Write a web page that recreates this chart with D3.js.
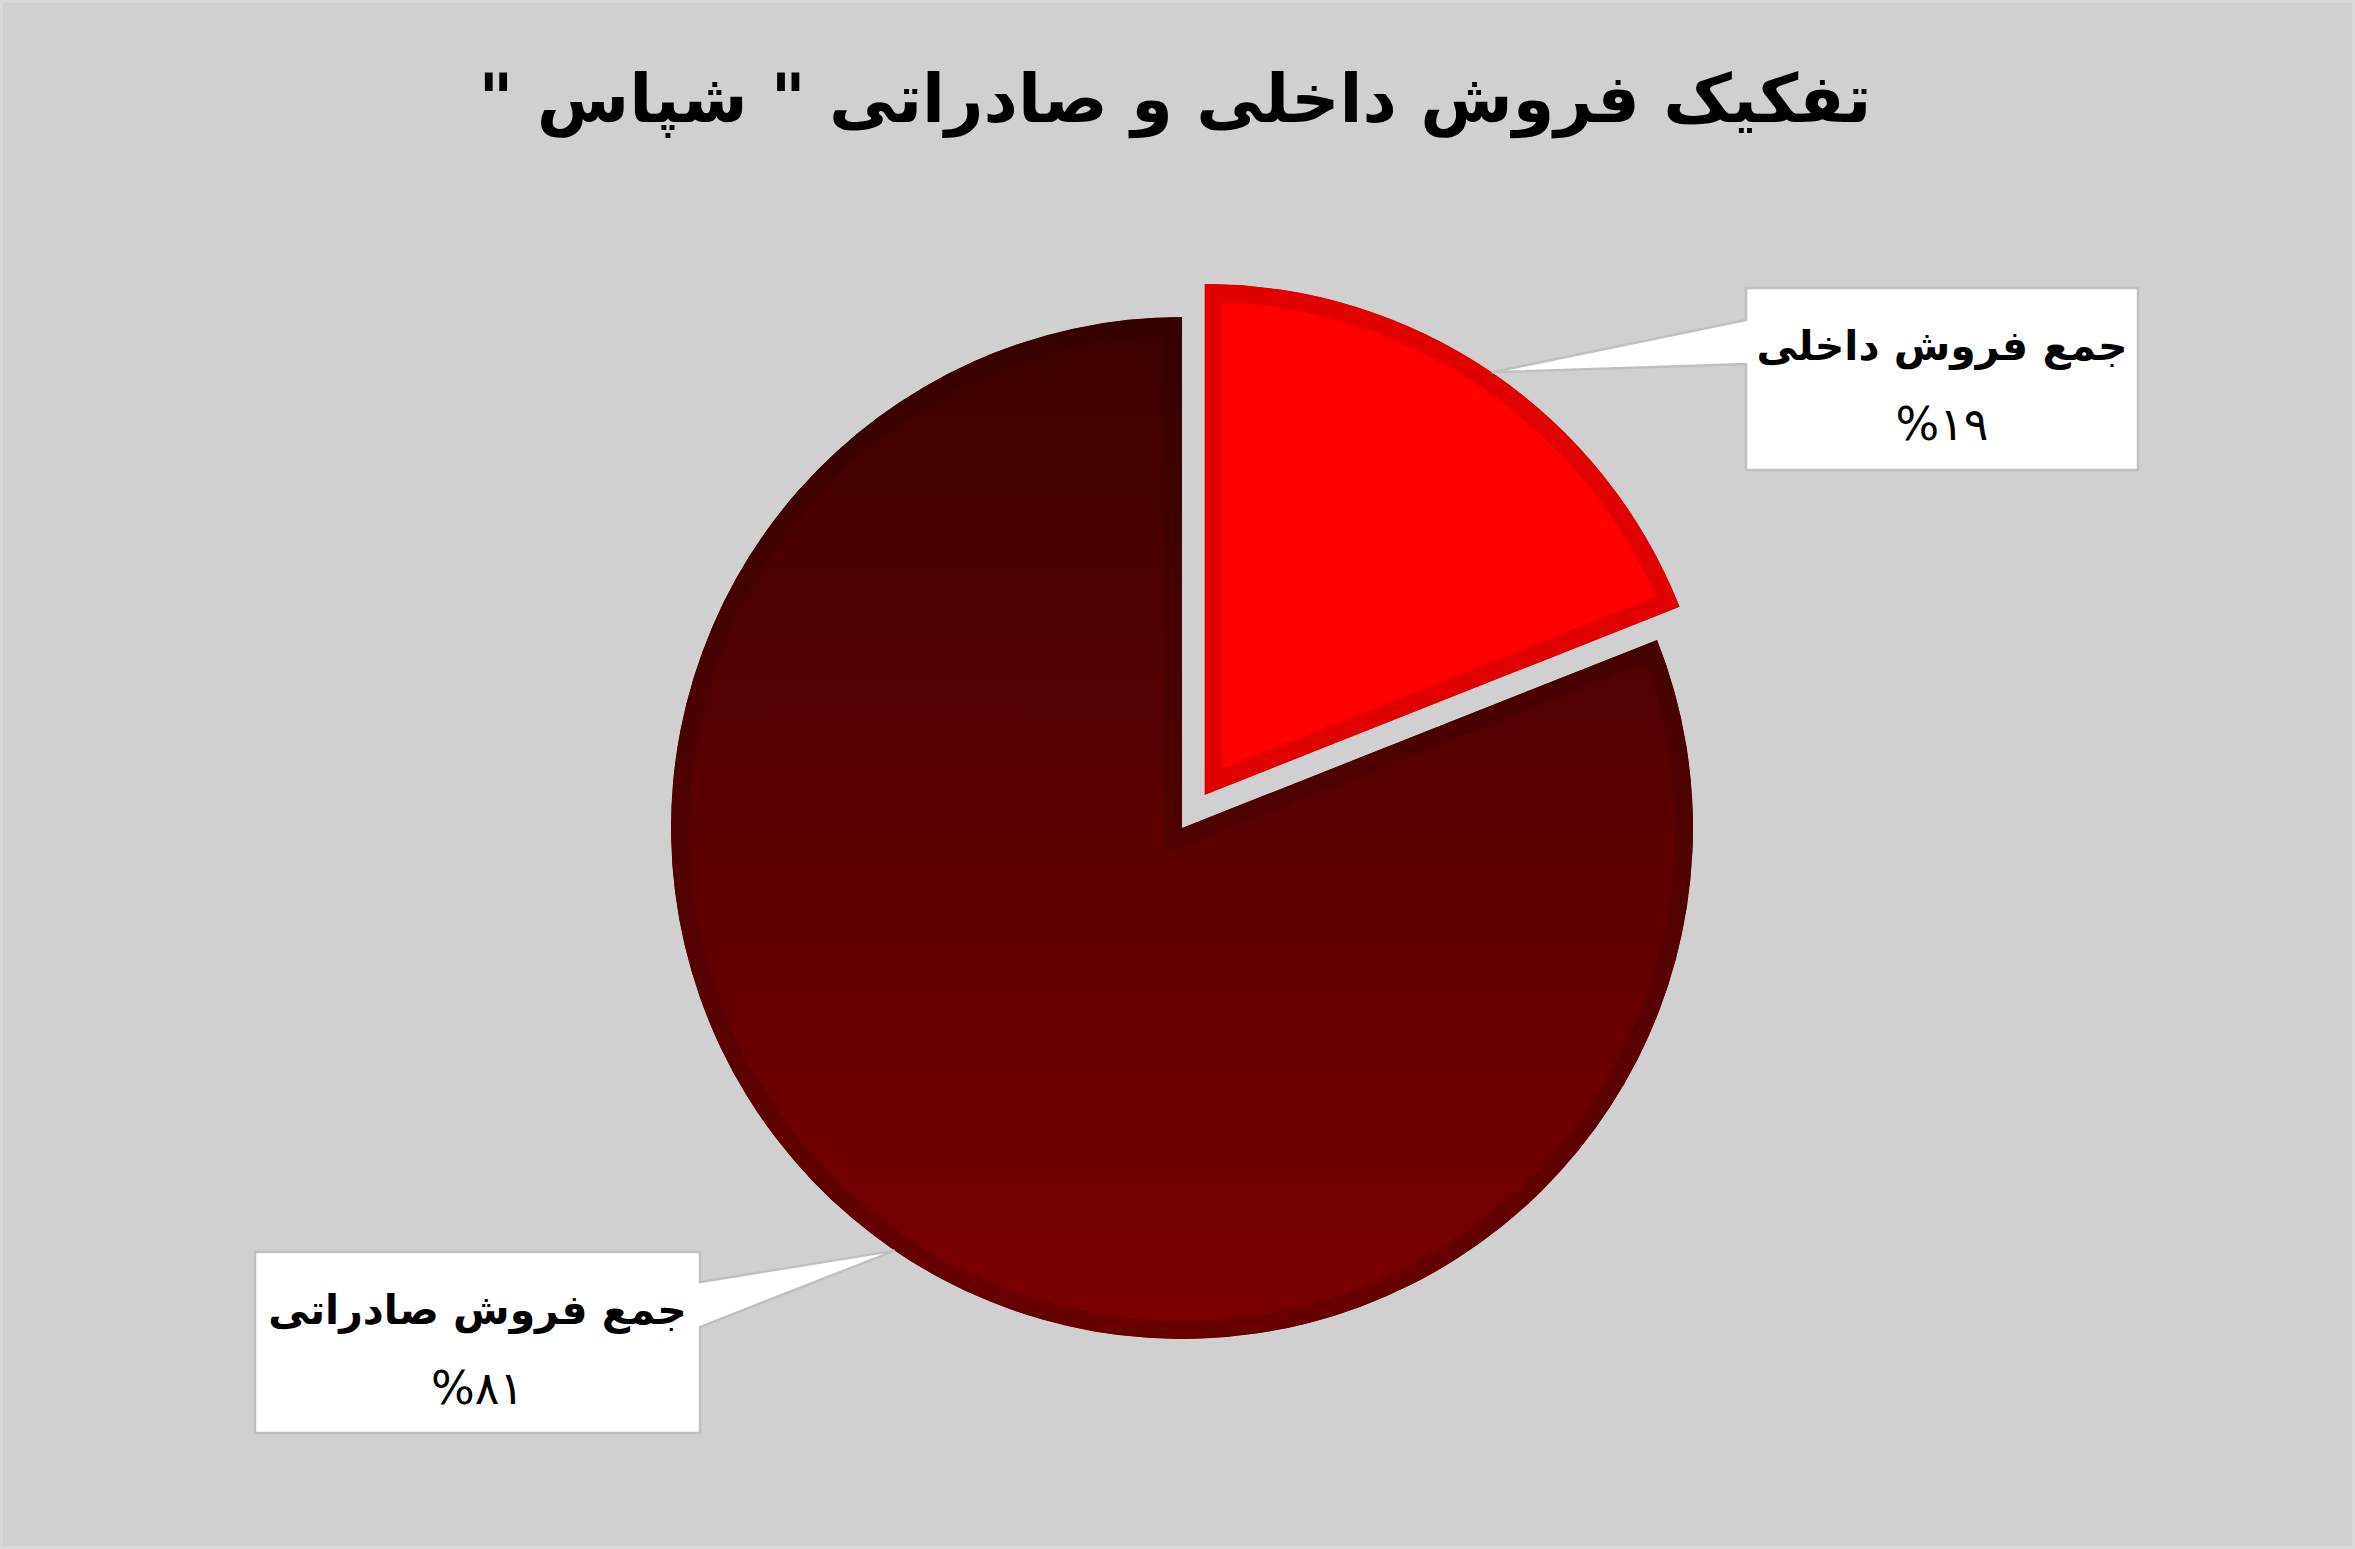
<!DOCTYPE html>
<html>
<head>
<meta charset="utf-8">
<script src="https://cdn.jsdelivr.net/npm/d3@7"></script>
<style>
  html, body { margin: 0; padding: 0; background: #d0d0d0; }
  svg { display: block; }
</style>
</head>
<body>
<div id="chart"></div>
<script>
// chart data
var title = "تفکیک فروش داخلی و صادراتی \" شپاس \"";
var categories = ["جمع فروش داخلی", "جمع فروش صادراتی"];
var shares = [19, 81];

var width = 2355;
var height = 1549;

// persian digits for the percent labels
function toPersian(n) {
  return String(n).replace(/[0-9]/g, function(c) { return "۰۱۲۳۴۵۶۷۸۹"[+c]; });
}

var data = categories.map(function(c, i) {
  return { name: c, value: shares[i] };
});

var svg = d3.select("#chart")
            .append("svg")
            .attr("width", width)
            .attr("height", height);

var defs = svg.append("defs");

// background
svg.append("rect")
   .attr("x", 1.5)
   .attr("y", 1.5)
   .attr("width", width - 3)
   .attr("height", height - 3)
   .attr("fill", "#d0d0d0")
   .attr("stroke", "#d9d9d9")
   .attr("stroke-width", 3);

// title
svg.append("text")
   .attr("x", 1175)
   .attr("y", 122)
   .attr("direction", "rtl")
   .attr("text-anchor", "middle")
   .attr("font-family", "DejaVu Sans")
   .attr("font-weight", "bold")
   .attr("font-size", "67px")
   .attr("fill", "#000")
   .text(title);

// pie
var cx = 1182, cy = 828, radius = 511, explode = 40, border = 18;

var pie = d3.pie().sort(null).value(function(d) { return d.value; });
var arcs = pie(data);

var arc = d3.arc().innerRadius(0).outerRadius(radius);
var edgeArc = d3.arc().innerRadius(radius).outerRadius(radius);

// gradients for the export slice
var fillGrad = defs.append("linearGradient")
   .attr("id", "darkFill")
   .attr("gradientUnits", "userSpaceOnUse")
   .attr("x1", 0).attr("y1", -radius)
   .attr("x2", 0).attr("y2", radius);
fillGrad.append("stop").attr("offset", "0%").attr("stop-color", "#3c0000");
fillGrad.append("stop").attr("offset", "100%").attr("stop-color", "#7a0000");

var strokeGrad = defs.append("linearGradient")
   .attr("id", "darkStroke")
   .attr("gradientUnits", "userSpaceOnUse")
   .attr("x1", 0).attr("y1", -radius)
   .attr("x2", 0).attr("y2", radius);
strokeGrad.append("stop").attr("offset", "0%").attr("stop-color", "#360000");
strokeGrad.append("stop").attr("offset", "100%").attr("stop-color", "#680000");

var fills = ["#ff0000", "url(#darkFill)"];
var strokes = ["#e00000", "url(#darkStroke)"];

function offsetOf(d, i) {
  if (i !== 0) return [0, 0];
  var a = (d.startAngle + d.endAngle) / 2;
  return [Math.sin(a) * explode, -Math.cos(a) * explode];
}

var slices = svg.selectAll("g.slice")
   .data(arcs)
   .enter()
   .append("g")
   .attr("class", "slice")
   .attr("transform", function(d, i) {
     var o = offsetOf(d, i);
     return "translate(" + (cx + o[0]) + "," + (cy + o[1]) + ")";
   });

// clip so the border is drawn on the inside like excel does
slices.append("clipPath")
   .attr("id", function(d, i) { return "clip" + i; })
   .append("path")
   .attr("d", arc);

slices.append("path")
   .attr("d", arc)
   .attr("fill", function(d, i) { return fills[i]; })
   .attr("stroke", function(d, i) { return strokes[i]; })
   .attr("stroke-width", border * 2)
   .attr("stroke-linejoin", "miter")
   .attr("clip-path", function(d, i) { return "url(#clip" + i + ")"; });

// data label callouts
var boxes = [
  { x0: 1746, x1: 2138, y0: 288, y1: 470, side: "left", b0: 320, b1: 364 },
  { x0: 255, x1: 700, y0: 1252, y1: 1433, side: "right", b0: 1282, b1: 1327 }
];

var labels = svg.selectAll("g.label")
   .data(arcs)
   .enter()
   .append("g")
   .attr("class", "label");

labels.append("path")
   .attr("d", function(d, i) {
     var b = boxes[i];
     var o = offsetOf(d, i);
     var t = edgeArc.centroid(d);
     var tx = cx + o[0] + t[0], ty = cy + o[1] + t[1];
     var p = d3.path();
     if (b.side === "left") {
       p.moveTo(b.x0, b.y0);
       p.lineTo(b.x1, b.y0);
       p.lineTo(b.x1, b.y1);
       p.lineTo(b.x0, b.y1);
       p.lineTo(b.x0, b.b1);
       p.lineTo(tx, ty);
       p.lineTo(b.x0, b.b0);
     } else {
       p.moveTo(b.x0, b.y0);
       p.lineTo(b.x1, b.y0);
       p.lineTo(b.x1, b.b0);
       p.lineTo(tx, ty);
       p.lineTo(b.x1, b.b1);
       p.lineTo(b.x1, b.y1);
       p.lineTo(b.x0, b.y1);
     }
     p.closePath();
     return p.toString();
   })
   .attr("fill", "#ffffff")
   .attr("stroke", "#c0c0c0")
   .attr("stroke-width", 2.5)
   .attr("stroke-linejoin", "miter");

labels.append("text")
   .attr("x", function(d, i) { return (boxes[i].x0 + boxes[i].x1) / 2; })
   .attr("y", function(d, i) { return boxes[i].y0 + 72; })
   .attr("direction", "rtl")
   .attr("text-anchor", "middle")
   .attr("font-family", "DejaVu Sans")
   .attr("font-weight", "bold")
   .attr("font-size", "41px")
   .attr("fill", "#000")
   .text(function(d) { return d.data.name; });

labels.append("text")
   .attr("x", function(d, i) { return (boxes[i].x0 + boxes[i].x1) / 2; })
   .attr("y", function(d, i) { return boxes[i].y0 + 152; })
   .attr("text-anchor", "middle")
   .attr("font-family", "DejaVu Sans")
   .attr("font-size", "46px")
   .attr("fill", "#000")
   .text(function(d) { return "%" + toPersian(d.data.value); });
</script>
</body>
</html>
